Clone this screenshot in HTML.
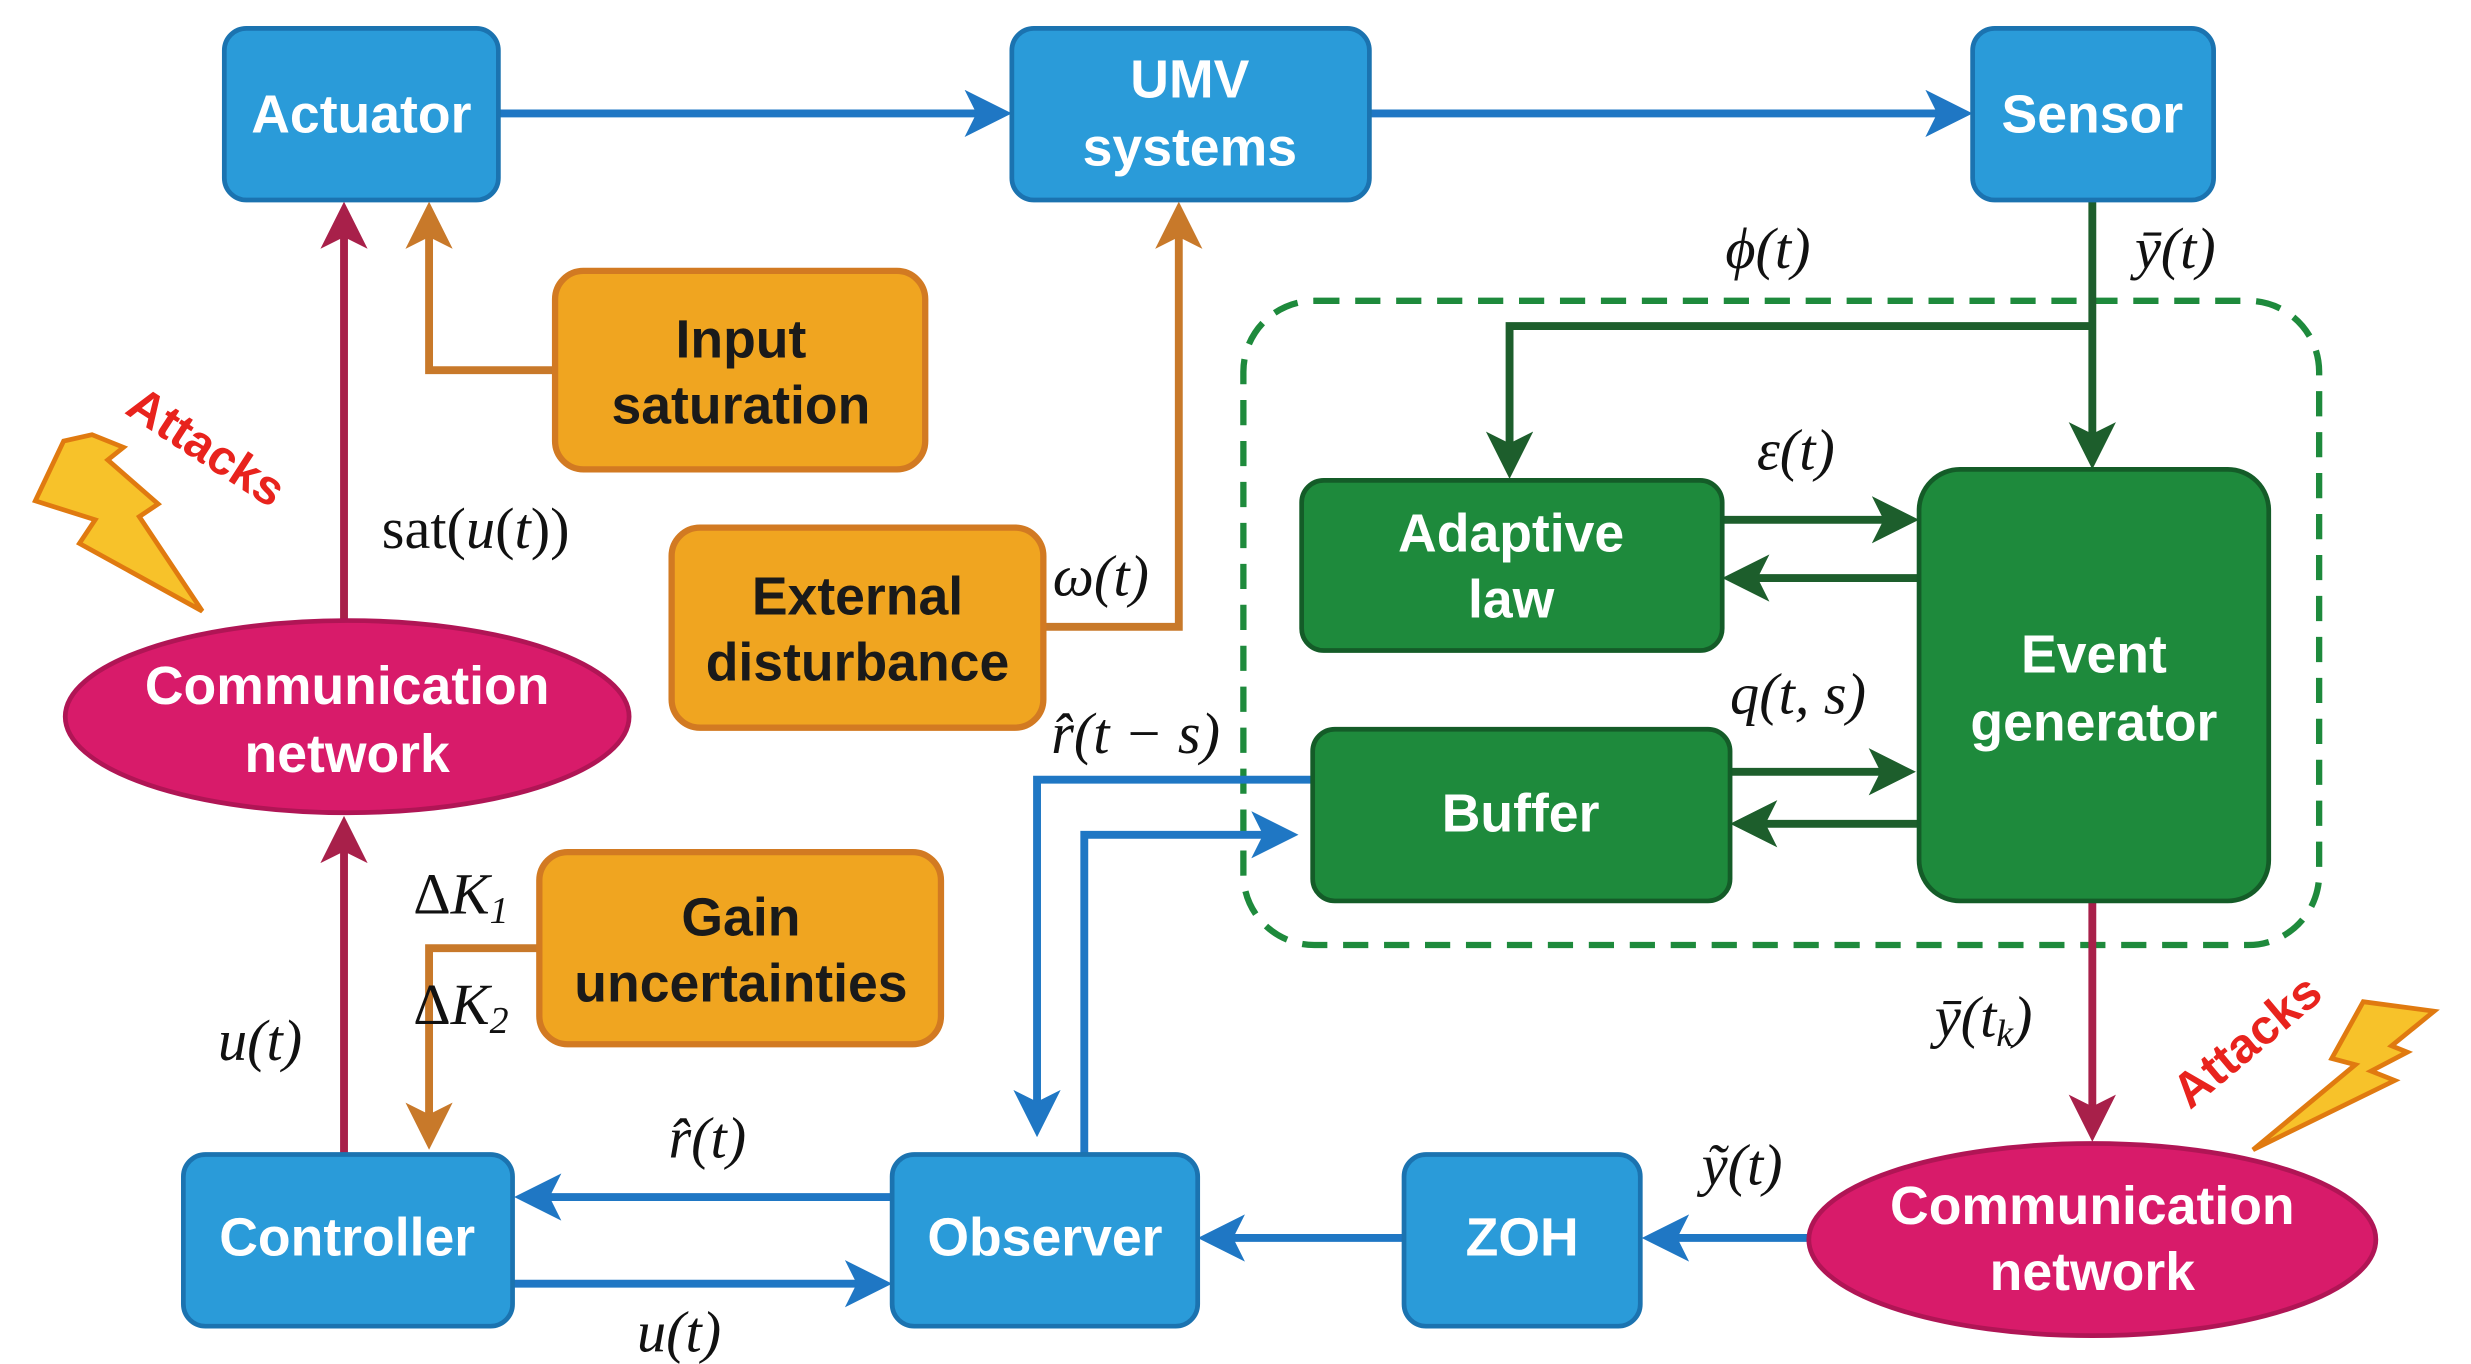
<!DOCTYPE html>
<html><head><meta charset="utf-8"><style>
html,body{margin:0;padding:0;background:#fff;}
svg{display:block;}
.bt{font-family:"Liberation Sans",sans-serif;font-weight:bold;fill:#fff;font-size:34px;text-anchor:middle;}
.ot{font-family:"Liberation Sans",sans-serif;font-weight:bold;fill:#1a1a1a;font-size:34px;text-anchor:middle;}
.m{font-family:"Liberation Serif",serif;font-style:italic;fill:#111;font-size:37px;}
.mr{font-family:"Liberation Serif",serif;fill:#111;font-size:37px;}
.at{font-family:"Liberation Sans",sans-serif;font-weight:bold;fill:#e8231d;font-size:31px;}
</style></head><body>
<svg width="2471" height="1364" viewBox="0 0 1568 866" xmlns="http://www.w3.org/2000/svg">
<defs>
<marker id="ab" markerWidth="6" markerHeight="6" refX="4" refY="3" orient="auto" markerUnits="strokeWidth"><path d="M0,0 L6,3 L0,6 L1.5,3 z" fill="#1f77c4"/></marker>
<marker id="ag" markerWidth="6" markerHeight="6" refX="4" refY="3" orient="auto" markerUnits="strokeWidth"><path d="M0,0 L6,3 L0,6 L1.5,3 z" fill="#1d5e2c"/></marker>
<marker id="ar" markerWidth="6" markerHeight="6" refX="4" refY="3" orient="auto" markerUnits="strokeWidth"><path d="M0,0 L6,3 L0,6 L1.5,3 z" fill="#a8204a"/></marker>
<marker id="ao" markerWidth="6" markerHeight="6" refX="4" refY="3" orient="auto" markerUnits="strokeWidth"><path d="M0,0 L6,3 L0,6 L1.5,3 z" fill="#c8792a"/></marker>
</defs>
<rect x="789" y="191" width="683" height="409" rx="45" fill="none" stroke="#1e8a3c" stroke-width="4" stroke-dasharray="16,10"/>
<g stroke="#1f77c4" stroke-width="5" fill="none">
<line x1="316" y1="72" x2="632" y2="72" marker-end="url(#ab)"/>
<line x1="869" y1="72" x2="1242" y2="72" marker-end="url(#ab)"/>
<line x1="1148" y1="786" x2="1052" y2="786" marker-end="url(#ab)"/>
<line x1="891" y1="786" x2="770" y2="786" marker-end="url(#ab)"/>
<line x1="566" y1="760" x2="336" y2="760" marker-end="url(#ab)"/>
<line x1="325" y1="815" x2="556" y2="815" marker-end="url(#ab)"/>
<polyline points="688,733 688,530 814,530" marker-end="url(#ab)"/>
<polyline points="833,495 658,495 658,712" marker-end="url(#ab)"/>
</g>
<g stroke="#1d5e2c" stroke-width="5" fill="none">
<line x1="1328" y1="127" x2="1328" y2="288" marker-end="url(#ag)"/>
<polyline points="1328,207 958,207 958,294" marker-end="url(#ag)"/>
<line x1="1093" y1="330" x2="1208" y2="330" marker-end="url(#ag)"/>
<line x1="1218" y1="367" x2="1103" y2="367" marker-end="url(#ag)"/>
<line x1="1098" y1="490" x2="1206" y2="490" marker-end="url(#ag)"/>
<line x1="1218" y1="523" x2="1108" y2="523" marker-end="url(#ag)"/>
</g>
<g stroke="#a8204a" stroke-width="5" fill="none">
<line x1="1328" y1="572" x2="1328" y2="715" marker-end="url(#ar)"/>
<line x1="218" y1="733" x2="218" y2="528" marker-end="url(#ar)"/>
<line x1="218" y1="393" x2="218" y2="138" marker-end="url(#ar)"/>
</g>
<g stroke="#c8792a" stroke-width="5" fill="none">
<polyline points="352,235 272,235 272,138" marker-end="url(#ao)"/>
<polyline points="662,398 748,398 748,138" marker-end="url(#ao)"/>
<polyline points="342,602 272,602 272,720" marker-end="url(#ao)"/>
</g>
<g fill="#2a9bd9" stroke="#1b73b0" stroke-width="3">
<rect x="142" y="18" width="174" height="109" rx="14"/>
<rect x="642" y="18" width="227" height="109" rx="14"/>
<rect x="1252" y="18" width="153" height="109" rx="14"/>
<rect x="116" y="733" width="209" height="109" rx="14"/>
<rect x="566" y="733" width="194" height="109" rx="14"/>
<rect x="891" y="733" width="150" height="109" rx="14"/>
</g>
<text class="bt" x="229" y="84">Actuator</text>
<text class="bt" x="755" y="62">UMV</text>
<text class="bt" x="755" y="105">systems</text>
<text class="bt" x="1328" y="84">Sensor</text>
<text class="bt" x="220" y="797">Controller</text>
<text class="bt" x="663" y="797">Observer</text>
<text class="bt" x="966" y="797">ZOH</text>
<g fill="#f0a520" stroke="#d27a22" stroke-width="4">
<rect x="352" y="172" width="235" height="126" rx="18"/>
<rect x="426" y="335" width="236" height="127" rx="18"/>
<rect x="342" y="541" width="255" height="122" rx="18"/>
</g>
<text class="ot" x="470" y="227">Input</text>
<text class="ot" x="470" y="269">saturation</text>
<text class="ot" x="544" y="390">External</text>
<text class="ot" x="544" y="432">disturbance</text>
<text class="ot" x="470" y="594">Gain</text>
<text class="ot" x="470" y="636">uncertainties</text>
<g fill="#1e8a3c" stroke="#145c28" stroke-width="3">
<rect x="826" y="305" width="267" height="108" rx="14"/>
<rect x="833" y="463" width="265" height="109" rx="14"/>
<rect x="1218" y="298" width="222" height="274" rx="26"/>
</g>
<text class="bt" x="959" y="350">Adaptive</text>
<text class="bt" x="959" y="392">law</text>
<text class="bt" x="965" y="528">Buffer</text>
<text class="bt" x="1329" y="427">Event</text>
<text class="bt" x="1329" y="470">generator</text>
<g fill="#d81b6a" stroke="#b01555" stroke-width="3">
<ellipse cx="220" cy="455" rx="179" ry="61"/>
<ellipse cx="1328" cy="787" rx="180" ry="61"/>
</g>
<text class="bt" x="220" y="447">Communication</text>
<text class="bt" x="220" y="490">network</text>
<text class="bt" x="1328" y="777">Communication</text>
<text class="bt" x="1328" y="819">network</text>
<text class="m" x="1095" y="170">ϕ(t)</text>
<text class="m" x="1355" y="170">ȳ(t)</text>
<text class="m" x="1115" y="298">ε(t)</text>
<text class="m" x="1098" y="453">q(t, s)</text>
<text class="m" x="667" y="478">r̂(t − s)</text>
<text class="m" x="668" y="378">ω(t)</text>
<text class="mr" x="242" y="348">sat(<tspan font-style="italic">u</tspan>(<tspan font-style="italic">t</tspan>))</text>
<text class="m" x="262" y="580"><tspan font-style="normal">Δ</tspan>K<tspan font-size="24" dy="6">1</tspan></text>
<text class="m" x="262" y="650"><tspan font-style="normal">Δ</tspan>K<tspan font-size="24" dy="6">2</tspan></text>
<text class="m" x="138" y="673">u(t)</text>
<text class="m" x="424" y="735">r̂(t)</text>
<text class="m" x="404" y="858">u(t)</text>
<text class="m" x="1080" y="752">ỹ(t)</text>
<text class="m" x="1228" y="658">ȳ(t<tspan font-size="24" dy="6">k</tspan><tspan dy="-6">)</tspan></text>
<text class="at" transform="translate(78,262) rotate(33)">Attacks</text>
<text class="at" transform="translate(1390,705) rotate(-40)">Attacks</text>
<polygon points="40,280 22,318 60,330 50,345 128,388 88,328 100,320 68,292 78,284 58,276" fill="#f7c22a" stroke="#e07a10" stroke-width="3"/>
<polygon points="1545,642 1500,636 1480,672 1495,676 1430,730 1520,686 1505,680 1528,668 1518,664" fill="#f7c22a" stroke="#e07a10" stroke-width="3"/>
</svg>
</body></html>
